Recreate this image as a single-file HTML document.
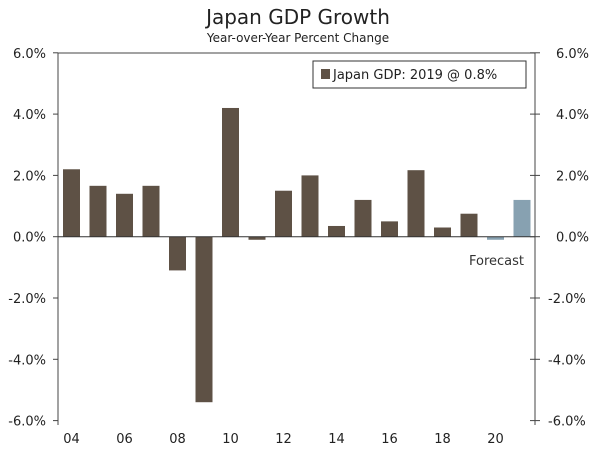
<!DOCTYPE html>
<html><head><meta charset="utf-8"><style>
body{margin:0;background:#fff}
svg{display:block;font-family:"DejaVu Sans","Liberation Sans",sans-serif}
</style></head><body>
<svg id="chart" width="600" height="450" viewBox="0 0 600 450">
<text x="298" y="24" text-anchor="middle" font-size="20" fill="#222">Japan GDP Growth</text>
<text x="298" y="42" text-anchor="middle" font-size="12" fill="#222">Year-over-Year Percent Change</text>
<g id="bars"></g>
<g id="axes"></g>
<g>
<rect x="313" y="61" width="213" height="27" fill="#fff" stroke="#333" stroke-width="1"/>
<rect x="321" y="69" width="9" height="10" fill="#5e5145"/>
<text x="333" y="79" font-size="13" fill="#222">Japan GDP: 2019 @ 0.8%</text>
</g>
<text x="469" y="265" font-size="13" fill="#333">Forecast</text>
</svg>
<script>
const years=["04","05","06","07","08","09","10","11","12","13","14","15","16","17","18","19","20","21"];
const values=[2.2,1.66,1.4,1.66,-1.1,-5.4,4.2,-0.1,1.5,2.0,0.35,1.2,0.5,2.17,0.3,0.75,-0.1,1.2];
const forecast=[false,false,false,false,false,false,false,false,false,false,false,false,false,false,false,false,true,true];
const ticks=[6,4,2,0,-2,-4,-6];
const xLabels=["04","06","08","10","12","14","16","18","20"];
const NS="http://www.w3.org/2000/svg";
const L=58,R=535,T=53,B=420;
const y=v=>236.7-v*30.65;
const band=26.5;
const x=i=>L+13.5+i*band;
function mk(t,a,p){const e=document.createElementNS(NS,t);for(const k in a)e.setAttribute(k,a[k]);p.appendChild(e);return e;}
const bars=document.getElementById('bars'),axes=document.getElementById('axes');
values.forEach((v,i)=>{
 const r=mk('rect',{x:x(i)-8.5,y:Math.min(y(v),y(0)),width:17,height:Math.max(1,Math.abs(y(v)-y(0))),fill:forecast[i]?'#87a1b1':'#5e5145'},bars);
 
 
});
mk('line',{x1:L,x2:R,y1:T,y2:T,stroke:'#444'},axes);
mk('line',{x1:L,x2:L,y1:T,y2:B+5,stroke:'#444'},axes);
mk('line',{x1:R,x2:R,y1:T,y2:B+5,stroke:'#444'},axes);
mk('line',{x1:L,x2:R,y1:y(0),y2:y(0),stroke:'#333'},axes);
ticks.forEach(t=>{
 mk('line',{x1:L-5,x2:L,y1:y(t),y2:y(t),stroke:'#444'},axes);
 mk('line',{x1:R-5,x2:R+5,y1:y(t),y2:y(t),stroke:'#444'},axes);
 const a=mk('text',{x:L-12,y:y(t)+5,'text-anchor':'end','font-size':13,fill:'#222'},axes);a.textContent=t.toFixed(1)+'%';
 
 
 const b=mk('text',{x:t<0?548:556,y:y(t)+5,'text-anchor':'start','font-size':13,fill:'#222'},axes);b.textContent=t.toFixed(1)+'%';
 
 
});
xLabels.forEach(l=>{
 const i=years.indexOf(l);
 const t=mk('text',{x:x(i),y:443,'text-anchor':'middle','font-size':13,fill:'#222'},axes);t.textContent=l;
 
 
});
</script>
</body></html>
